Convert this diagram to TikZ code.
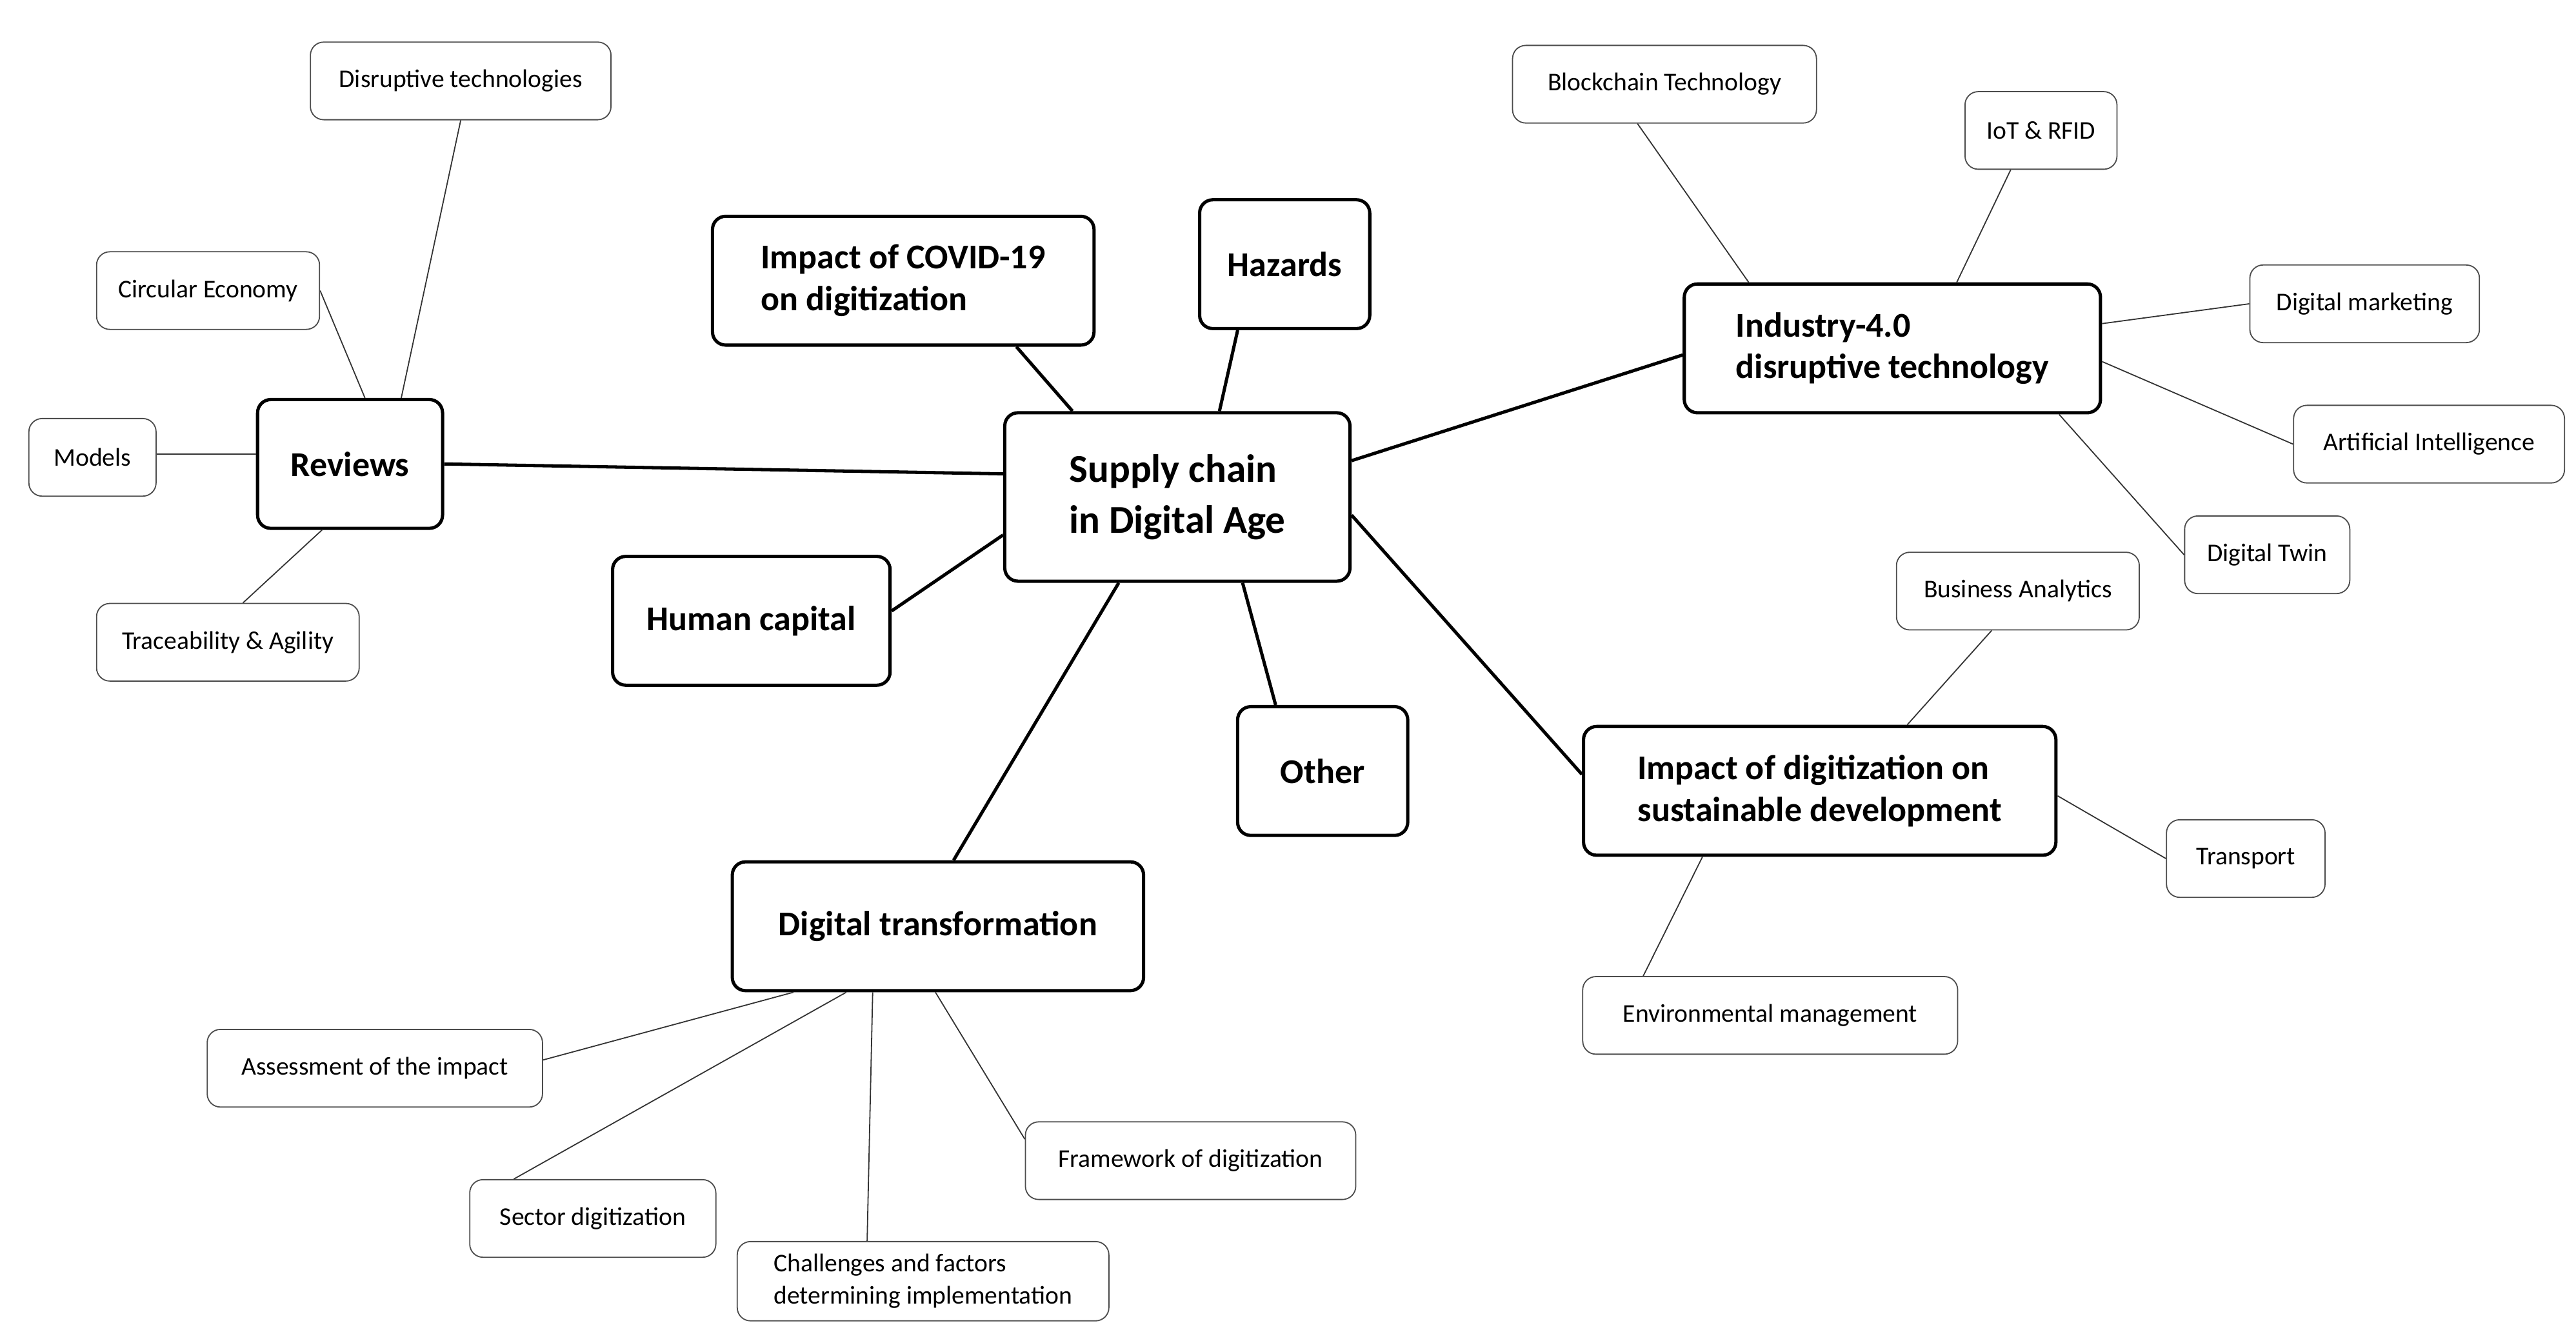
\documentclass[tikz,border=0pt]{standalone}
\usepackage{fontspec}
\setmainfont{Carlito}
\usetikzlibrary{calc}
\begin{document}
\begin{tikzpicture}[x=0.025cm,y=-0.025cm,
 big/.style={draw,line width=1.4pt,rounded corners=0.2cm,font=\fontsize{15}{18}\selectfont\bfseries,align=left,minimum height=1.95cm,inner sep=4pt},
 sm/.style={draw=black!70,line width=0.5pt,rounded corners=0.2cm,font=\fontsize{11}{14}\selectfont,align=left,minimum height=1.175cm,inner sep=3pt},
 thk/.style={line width=1.4pt},
 thn/.style={line width=0.5pt,black!80}]
\useasboundingbox (0,0) rectangle (1560,812);
\node[big,minimum width=5.225cm,minimum height=2.55cm,font=\fontsize{17}{22}\selectfont\bfseries] (c) at (713,301) {Supply chain\\in Digital Age};
\node[big,minimum width=2.8cm] (rev) at (212,281) {Reviews};
\node[big,minimum width=5.775cm] (cov) at (547,170) {Impact of COVID-19\\on digitization};
\node[big,minimum width=2.575cm] (haz) at (778,160) {Hazards};
\node[big,minimum width=4.2cm] (hum) at (455,376) {Human capital};
\node[big,minimum width=2.575cm] (oth) at (801,467) {Other};
\node[big,minimum width=6.225cm] (dt) at (568,561) {Digital transformation};
\node[big,minimum width=6.3cm] (ind) at (1146,211) {Industry-4.0\\disruptive technology};
\node[big,minimum width=7.15cm] (imp) at (1102,479) {Impact of digitization on\\sustainable development};
\node[sm,minimum width=4.55cm] (dis) at (279,49) {Disruptive technologies};
\node[sm,minimum width=3.375cm] (cir) at (126,176) {Circular Economy};
\node[sm,minimum width=1.925cm] (mod) at (56,277) {Models};
\node[sm,minimum width=3.975cm] (tra) at (138,389) {Traceability \& Agility};
\node[sm,minimum width=5.075cm] (ass) at (227,647) {Assessment of the impact};
\node[sm,minimum width=3.725cm] (sec) at (359,738) {Sector digitization};
\node[sm,minimum width=5.625cm,minimum height=1.2cm] (cha) at (559,776) {Challenges and factors\\determining implementation};
\node[sm,minimum width=5.0cm] (fra) at (721,703) {Framework of digitization};
\node[sm,minimum width=4.6cm] (blo) at (1008,51) {Blockchain Technology};
\node[sm,minimum width=2.3cm] (iot) at (1236,79) {IoT \& RFID};
\node[sm,minimum width=3.475cm] (dm) at (1432,184) {Digital marketing};
\node[sm,minimum width=4.1cm] (ai) at (1471,269) {Artificial Intelligence};
\node[sm,minimum width=2.5cm] (tw) at (1373,336) {Digital Twin};
\node[sm,minimum width=3.675cm] (ba) at (1222,358) {Business Analytics};
\node[sm,minimum width=2.4cm] (trn) at (1360,520) {Transport};
\node[sm,minimum width=5.675cm] (env) at (1072,615) {Environmental management};
% main connectors
\draw[thk] (rev.east) -- ($(c.west)+(0,-14)$);
\draw[thk] ($(cov.south west)+(185,0)$) -- ($(c.north west)+(42,0)$);
\draw[thk] ($(haz.south west)+(24,0)$) -- ($(c.north west)+(131,0)$);
\draw[thk] ($(hum.north east)+(0,34)$) -- ($(c.north west)+(0,75)$);
\draw[thk] ($(oth.north west)+(24,0)$) -- ($(c.south west)+(145,0)$);
\draw[thk] ($(dt.north west)+(135,0)$) -- ($(c.south west)+(70,0)$);
\draw[thk] ($(ind.north west)+(0,44)$) -- ($(c.north east)+(0,30)$);
\draw[thk] ($(imp.north west)+(0,30)$) -- ($(c.north east)+(0,63)$);
% reviews
\draw[thn] (dis.south) -- ($(rev.north west)+(88,0)$);
\draw[thn] (cir.east) -- ($(rev.north west)+(66,0)$);
\draw[thn] ($(mod.east)+(0,-2)$) -- ($(rev.west)+(0,-6)$);
\draw[thn] ($(tra.north west)+(89,0)$) -- ($(rev.south west)+(40,0)$);
% digital transformation
\draw[thn] ($(ass.east)+(0,-5)$) -- ($(dt.south west)+(38,0)$);
\draw[thn] ($(sec.north west)+(27,0)$) -- ($(dt.south west)+(70,0)$);
\draw[thn] ($(cha.north west)+(79,0)$) -- ($(dt.south west)+(86,0)$);
\draw[thn] ($(fra.west)+(0,-13)$) -- ($(dt.south west)+(124,0)$);
% industry
\draw[thn] ($(blo.south west)+(76,0)$) -- ($(ind.north west)+(40,0)$);
\draw[thn] ($(iot.south west)+(28,0)$) -- ($(ind.north west)+(166,0)$);
\draw[thn] (dm.west) -- ($(ind.east)+(0,-15)$);
\draw[thn] (ai.west) -- ($(ind.east)+(0,8)$);
\draw[thn] (tw.west) -- ($(ind.south west)+(228,0)$);
% impact
\draw[thn] ($(ba.south west)+(58,0)$) -- ($(imp.north west)+(197,0)$);
\draw[thn] (trn.west) -- ($(imp.east)+(0,3)$);
\draw[thn] ($(env.north west)+(37,0)$) -- ($(imp.south west)+(73,0)$);
\end{tikzpicture}
\end{document}
